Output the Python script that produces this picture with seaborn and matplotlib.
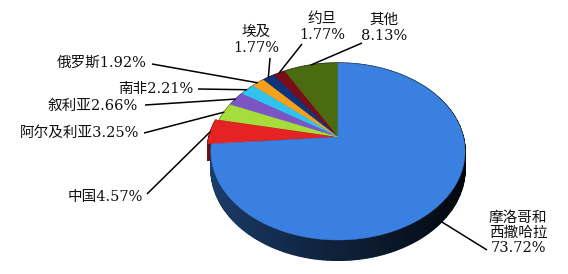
import numpy as np
import matplotlib
matplotlib.use("Agg")
import matplotlib.pyplot as plt
import matplotlib.colors as mcolors
from matplotlib.patches import Polygon
import seaborn as sns

# Import share by source country (%)
names = ["其他", "约旦", "埃及", "俄罗斯", "南非", "叙利亚", "阿尔及利亚", "中国", "摩洛哥和\n西撒哈拉"]
shares = [8.13, 1.77, 1.77, 1.92, 2.21, 2.66, 3.25, 4.57, 73.72]
explode = [0, 0, 0, 0, 0, 0, 0, 0.03, 0]
colors = ["#4a6b10", "#7c0c17", "#10347a", "#f6a11b", "#30c3ee",
          "#7b55c6", "#a6dc3c", "#e52323", "#3a80e0"]

sns.set_theme(style="white")
plt.rcParams["font.family"] = ["DejaVu Serif", "Noto Sans CJK SC"]
palette = sns.color_palette(colors)

W, H = 568, 274
fig = plt.figure(figsize=(W / 100, H / 100), dpi=100)
ax = fig.add_axes([0, 0, 1, 1])

# Let pie() lay out the wedge angles, then redraw them as a tilted 3-D disc
wedges, _ = ax.pie(shares, startangle=90, counterclock=True, explode=explode, radius=1)
geom = [(np.array(w.center), w.theta1, w.theta2) for w in wedges]
for w in wedges:
    w.remove()

ax.set_aspect("auto")
ax.set_xlim(0, W)
ax.set_ylim(H, 0)
ax.axis("off")

# perspective view of the disc
K, SX, SY, CX, CY, DEPTH = 0.164, 125.3, 86.1, 338.0, 137.0, 17.0


def proj(x, y, z=0.0):
    f = 1.0 / (1.0 + K * y)
    return CX + x * f * SX, CY - y * f * SY + z * f * DEPTH


def arc(center, t1, t2, r=1.0):
    n = max(6, int((t2 - t1) / 1.0))
    t = np.radians(np.linspace(t1, t2, n))
    return center[0] + r * np.cos(t), center[1] + r * np.sin(t)


def shade(c, k):
    rgb = np.array(mcolors.to_rgb(c))
    return tuple(np.clip(rgb * k, 0, 1))


# radial walls (only the exploded slice shows them)
for (c, t1, t2), col in zip(geom, palette):
    for t in (t1, t2):
        ex, ey = c[0] + np.cos(np.radians(t)), c[1] + np.sin(np.radians(t))
        pts = [proj(c[0], c[1]), proj(ex, ey), proj(ex, ey, 1), proj(c[0], c[1], 1)]
        ax.add_patch(Polygon(pts, closed=True, fc=shade(col, 0.45), ec="none", zorder=1))

# outer walls, lit from the left
for (c, t1, t2), col in zip(geom, palette):
    xs, ys = arc(c, t1, t2)
    ang = np.arctan2(ys - c[1], xs - c[0])
    for i in range(len(xs) - 1):
        a = 0.5 * (ang[i] + ang[i + 1])
        k = max(0.04, 0.26 - 0.22 * np.cos(a))
        pts = [proj(xs[i], ys[i]), proj(xs[i + 1], ys[i + 1]),
               proj(xs[i + 1], ys[i + 1], 1), proj(xs[i], ys[i], 1)]
        ax.add_patch(Polygon(pts, closed=True, fc=shade(col, k), ec=shade(col, k),
                             lw=1.0, zorder=2))

# top faces
for (c, t1, t2), col in zip(geom, palette):
    xs, ys = arc(c, t1, t2)
    pts = [proj(c[0], c[1])] + [proj(x, y) for x, y in zip(xs, ys)]
    ax.add_patch(Polygon(pts, closed=True, fc=col, ec=col, lw=0.3, zorder=3))

# label layout: text anchor, alignment, leader start, leader end depth
layout = [
    dict(xy=(384, 28), ha="center", start=(362, 43), z=0),
    dict(xy=(322, 27), ha="center", start=(302, 44), z=0),
    dict(xy=(256, 40), ha="center", start=(270, 58), z=0),
    dict(xy=(147, 63), ha="right", start=(152, 64), z=0),
    dict(xy=(193, 89), ha="right", start=(198, 89), z=0),
    dict(xy=(138, 106), ha="right", start=(145, 105), z=0),
    dict(xy=(139, 133), ha="right", start=(144, 133), z=0),
    dict(xy=(143, 197), ha="right", start=(147, 194), z=0),
    dict(xy=(518, 233), ha="center", start=(487, 250), z=1),
]

for name, v, (c, t1, t2), lay in zip(names, shares, geom, layout):
    sep = "\n" if "\n" in name or lay["ha"] == "center" else ""
    text = f"{name}{sep}{v:.2f}%"
    ax.text(*lay["xy"], text, ha=lay["ha"], va="center", fontsize=10.5,
            linespacing=1.12, multialignment="center", color="#111111", zorder=5)
    tm = np.radians(0.5 * (t1 + t2))
    ex, ey = proj(c[0] + np.cos(tm), c[1] + np.sin(tm), lay["z"])
    ax.plot([lay["start"][0], ex], [lay["start"][1], ey], color="black", lw=1.1,
            solid_capstyle="butt", zorder=4)

fig.savefig("out.png", dpi=100, facecolor="white")
